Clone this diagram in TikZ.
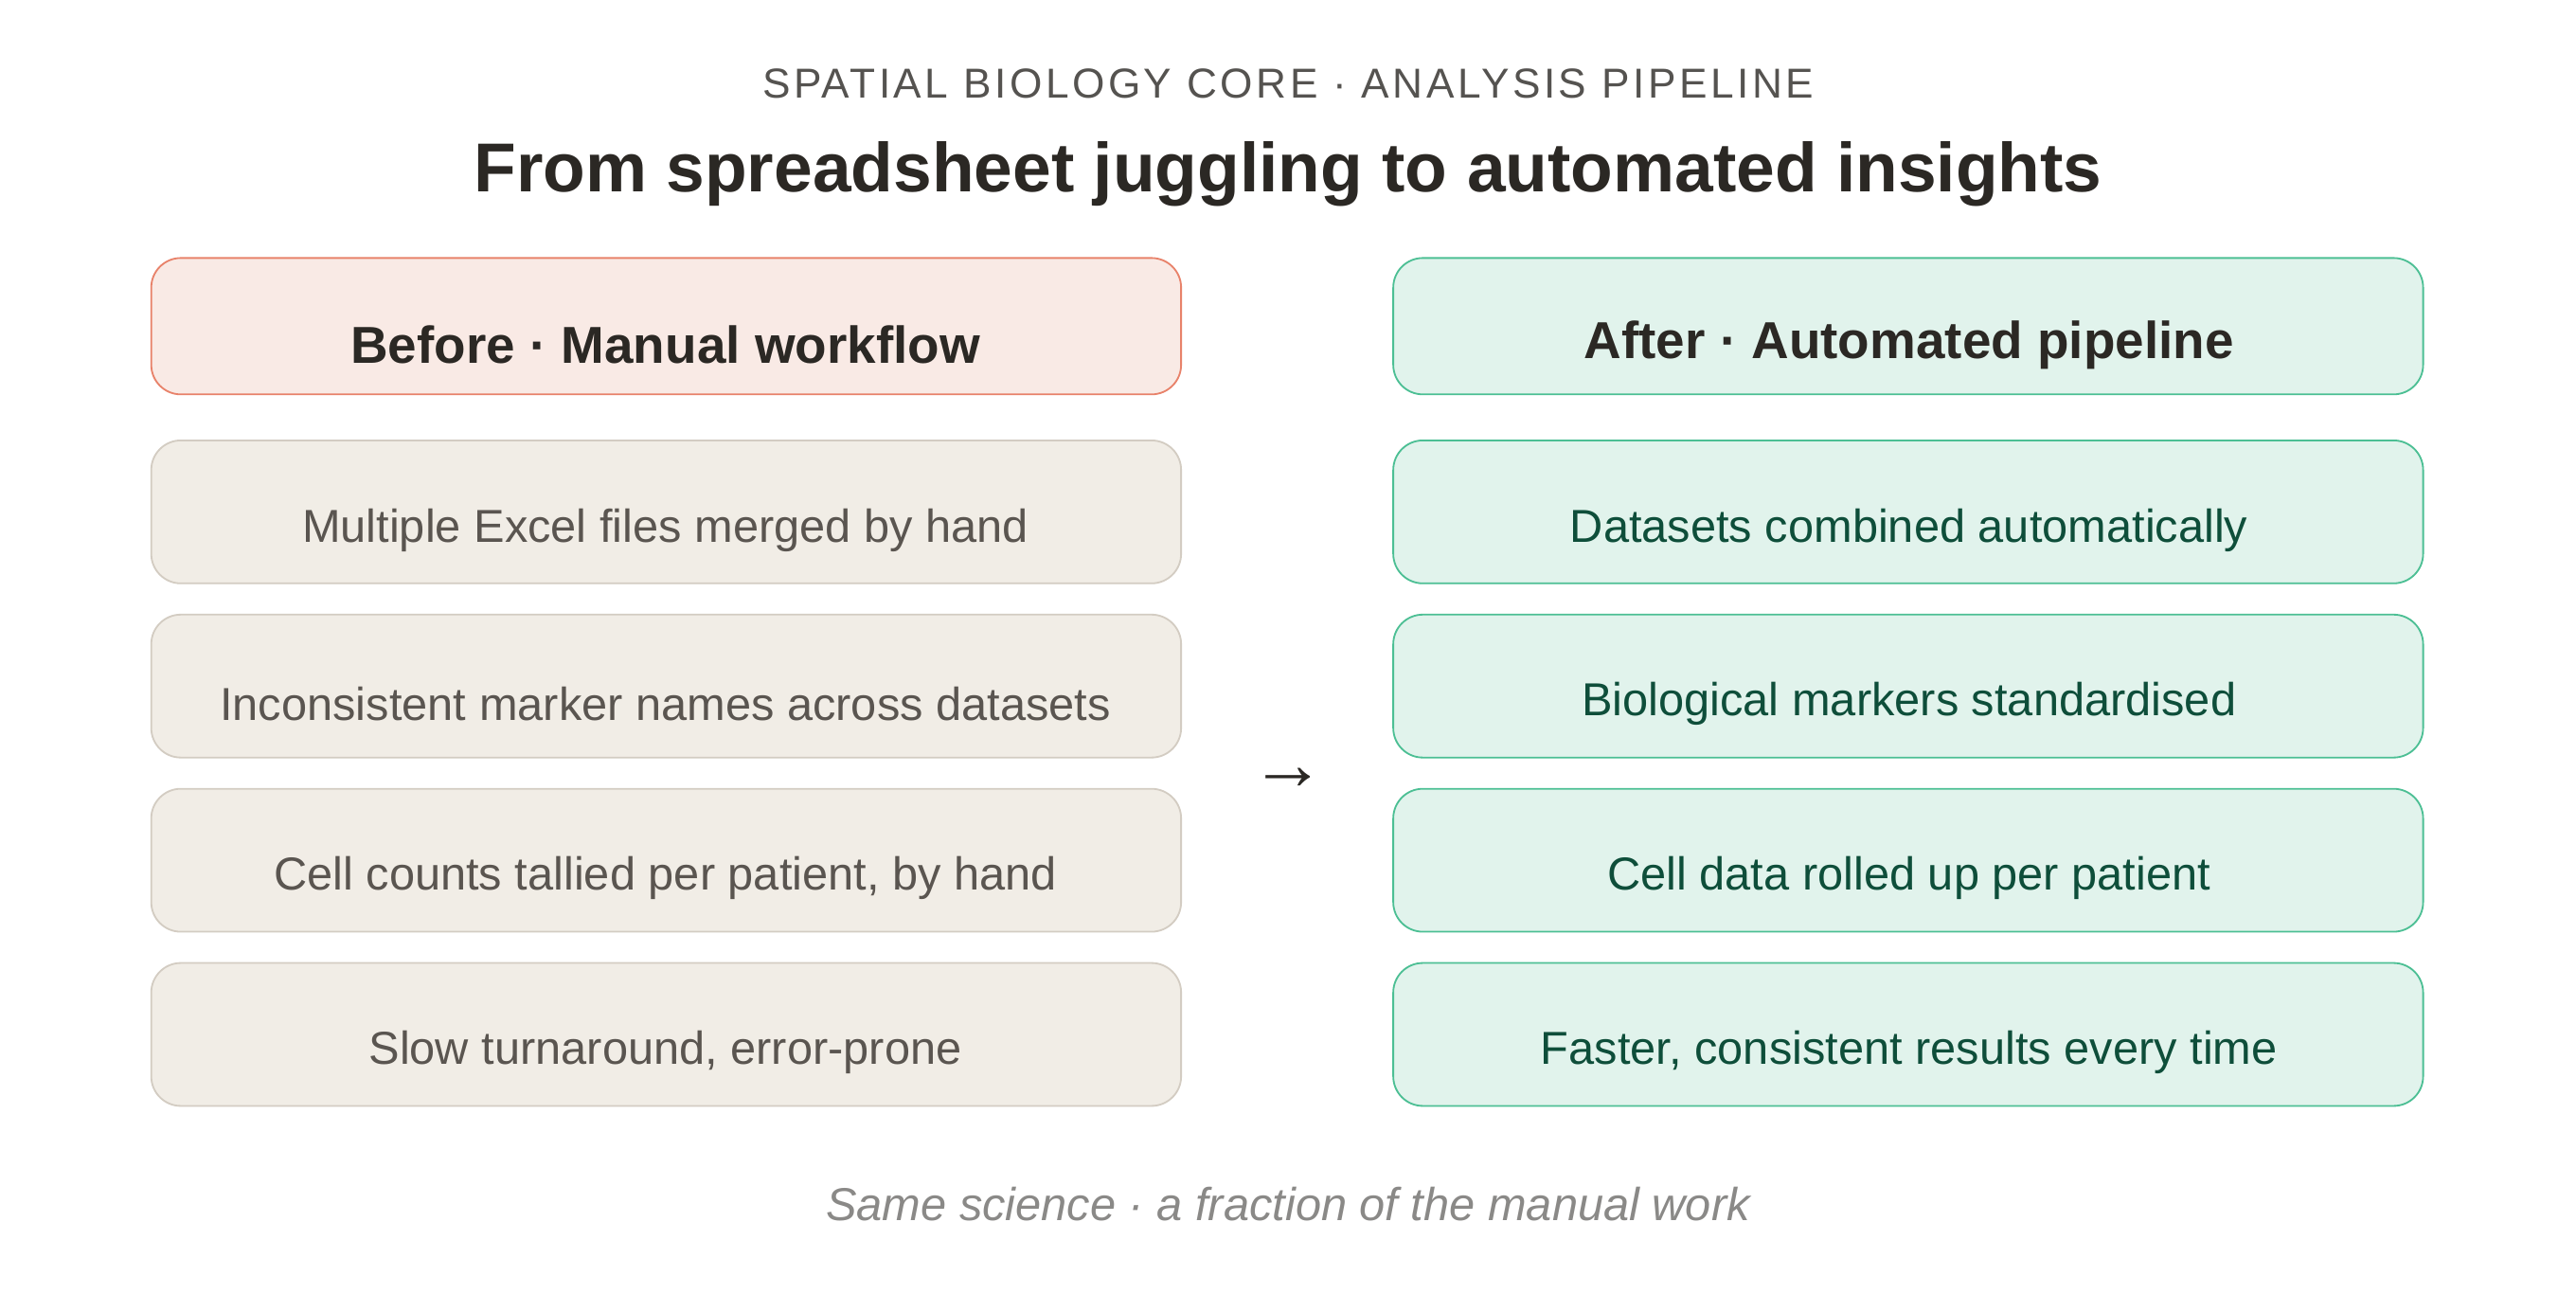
\documentclass[tikz,border=0pt]{standalone}
\usepackage{fontspec}
\setmainfont{Liberation Sans}
\usepackage{tikz}
\usetikzlibrary{positioning}
\definecolor{inkdark}{HTML}{2B2824}
\definecolor{inkgray}{HTML}{5A5550}
\definecolor{inkgreen}{HTML}{0E4E3A}
\definecolor{beforefill}{HTML}{F9EAE5}
\definecolor{beforeline}{HTML}{E8826A}
\definecolor{afterfill}{HTML}{E1F3EC}
\definecolor{afterline}{HTML}{4CBF94}
\definecolor{rowfill}{HTML}{F1EDE6}
\definecolor{rowline}{HTML}{D3CCC2}
\tikzset{
  panel/.style={rounded corners=0.36cm, line width=0.6pt, minimum width=12.54cm, inner sep=0pt},
  head/.style={panel, minimum height=1.66cm},
  row/.style={panel, minimum height=1.74cm},
  oldrow/.style={row, draw=rowline, fill=rowfill},
  newrow/.style={row, draw=afterline, fill=afterfill},
  rowtext/.style={font=\fontsize{16}{19}\selectfont},
}
\begin{document}
\begin{tikzpicture}[x=0.02cm,y=-0.02cm]
\useasboundingbox (0,0) rectangle (1568,798);
% Titles
\node[text=inkdark!80, font=\fontsize{14.5}{17}\selectfont\addfontfeature{LetterSpace=8}] (kicker) at (784,51) {SPATIAL BIOLOGY CORE · ANALYSIS PIPELINE};
\node[text=inkdark, font=\fontsize{24}{29}\selectfont\bfseries] (title) at (784,106) {From spreadsheet juggling to automated insights};

% Column headers
\node[head, draw=beforeline, fill=beforefill] (before) at (405.5,198.5) {};
\node[text=inkdark, font=\fontsize{18}{22}\selectfont\bfseries] (beforelabel) at (405,210) {Before · Manual workflow};
\node[head, draw=afterline, fill=afterfill] (after) at (1161.5,198.5) {};
\node[text=inkdark, font=\fontsize{18}{22}\selectfont\bfseries] (afterlabel) at (1162,210) {After · Automated pipeline};

% Rows
\foreach \i/\y/\old/\new in {1/311.5/Multiple Excel files merged by hand/Datasets combined automatically,
    2/417.5/Inconsistent marker names across datasets/Biological markers standardised,
    3/523.5/{Cell counts tallied per patient, by hand}/Cell data rolled up per patient,
    4/629.5/{Slow turnaround, error-prone}/{Faster, consistent results every time}} {
  \node[oldrow] (old\i) at (405.5,\y) {};
  \node[rowtext, text=inkgray] (oldtext\i) at (405,\y+11) {\old};
  \node[newrow] (new\i) at (1161.5,\y) {};
  \node[rowtext, text=inkgreen] (newtext\i) at (1162,\y+11) {\new};
}

% Arrow between columns
\node[text=inkdark, font=\fontsize{26}{30}\selectfont] (arrow) at (784,474) {→};

% Footer
\node[text=inkdark!55, font=\fontsize{16}{19}\selectfont\itshape] (footer) at (784,733) {Same science · a fraction of the manual work};
\end{tikzpicture}
\end{document}
